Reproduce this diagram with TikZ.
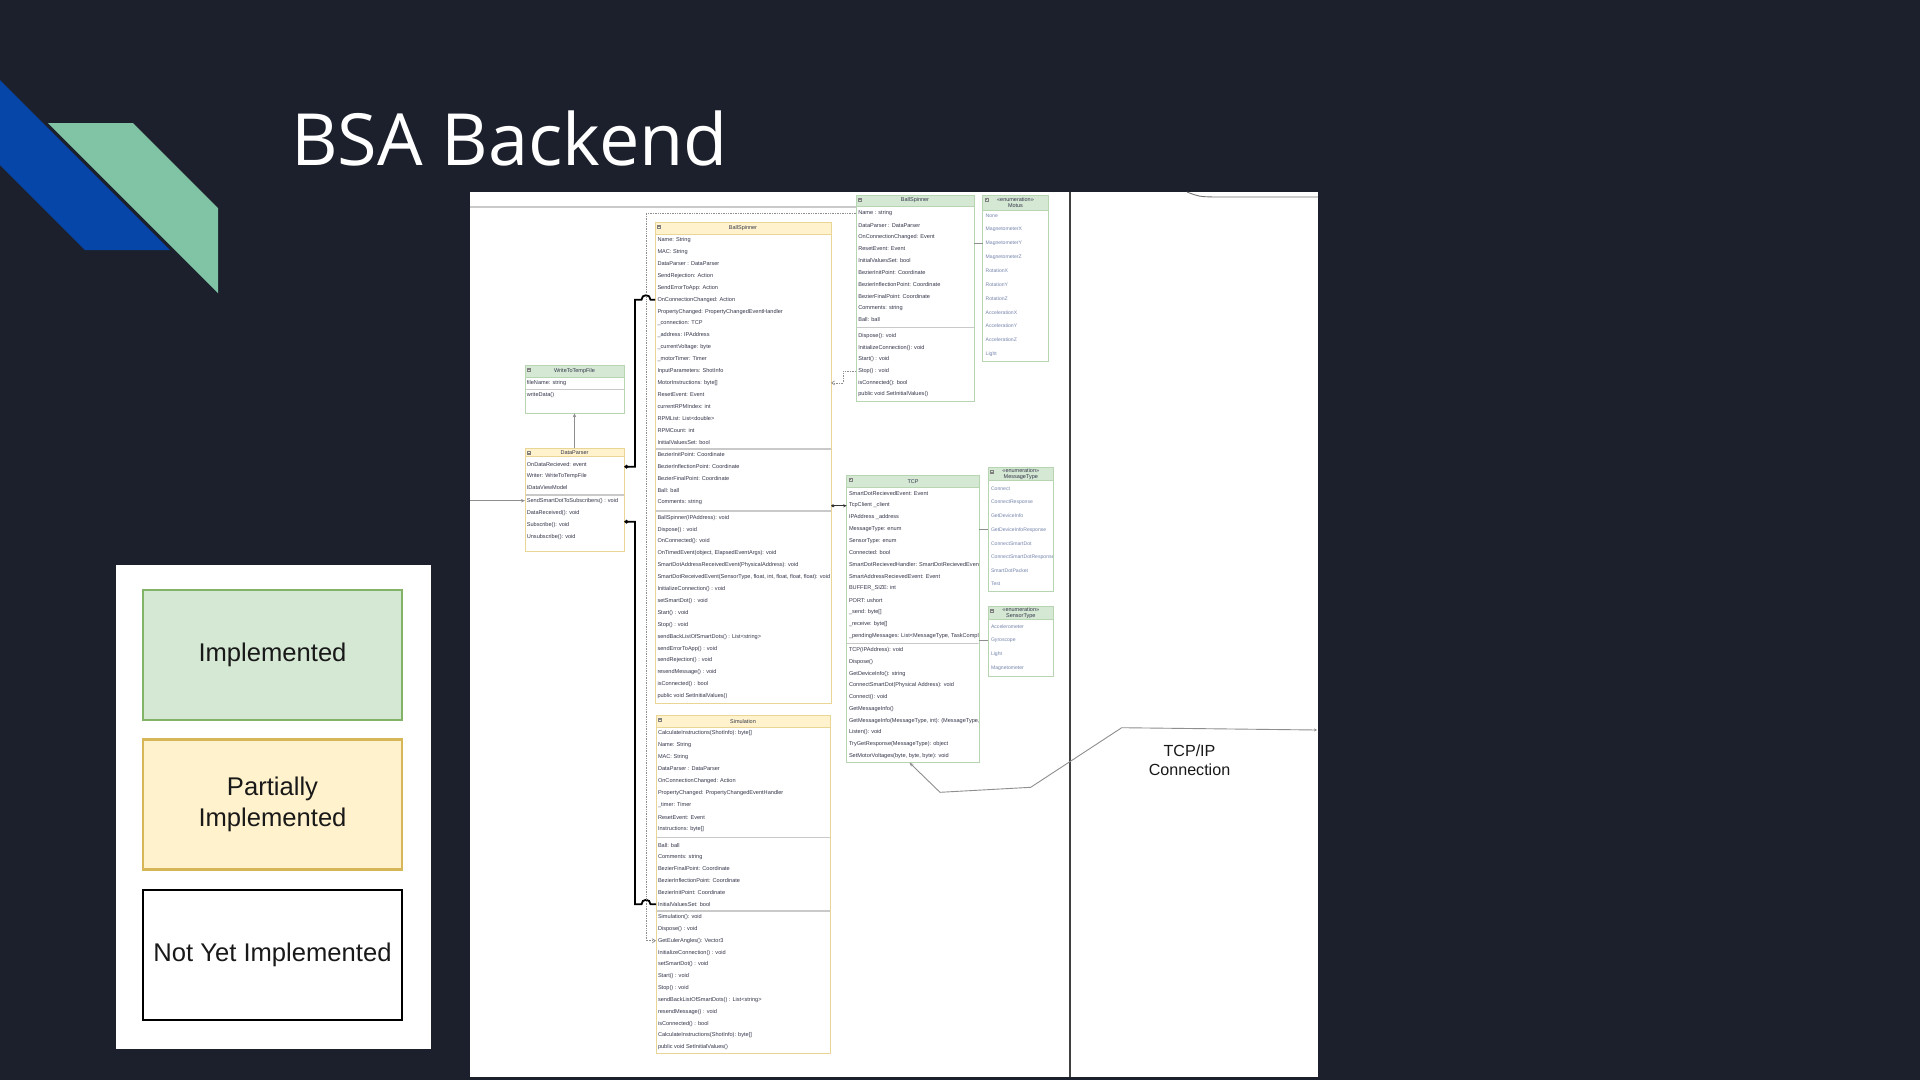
\documentclass[tikz,border=0pt]{standalone}
\usepackage{fontspec}
\setmainfont{Liberation Sans}
\newfontfamily\titlefont{Open Sans}
\usetikzlibrary{arrows.meta,calc}

\definecolor{slidebg}{HTML}{1C202C}
\definecolor{logoblue}{HTML}{0646A8}
\definecolor{logogreen}{HTML}{80C4A5}
\definecolor{yfill}{HTML}{FFF2CC}
\definecolor{ybord}{HTML}{E9D596}
\definecolor{gfill}{HTML}{D5E8D4}
\definecolor{gbord}{HTML}{B7D5B0}
\definecolor{sepgray}{HTML}{C9C9C9}
\definecolor{rowtext}{HTML}{33364A}
\definecolor{enumtext}{HTML}{7484AC}
\definecolor{conngray}{HTML}{8E8E8E}
\definecolor{legimplbord}{HTML}{82B366}
\definecolor{legpartbord}{HTML}{D6B656}

\tikzset{
  row/.style={anchor=west, inner sep=0, outer sep=0, font=\fontsize{5.6}{6.5}\selectfont, text=rowtext},
  erow/.style={anchor=west, inner sep=0, outer sep=0, font=\fontsize{5.1}{6}\selectfont, text=enumtext},
  classtitle/.style={inner sep=0, outer sep=0, font=\fontsize{5.5}{6}\selectfont, text=rowtext, align=center},
  ybox/.style={draw=ybord, fill=white, line width=0.7pt, inner sep=0, outer sep=0},
  yhead/.style={draw=ybord, fill=yfill, line width=0.7pt, inner sep=0, outer sep=0},
  gbox/.style={draw=gbord, fill=white, line width=0.7pt, inner sep=0, outer sep=0},
  ghead/.style={draw=gbord, fill=gfill, line width=0.7pt, inner sep=0, outer sep=0},
  sepline/.style={draw=sepgray, line width=1.6pt},
  icon/.style={draw=gray, line width=0.4pt},
  conn/.style={draw=conngray, line width=0.7pt},
  strong/.style={draw=black, line width=1.8pt},
  legbox/.style={minimum width=259pt, minimum height=130pt, line width=2.6pt, inner sep=0,
    align=center, text=black!90, font=\fontsize{25.6}{30.6}\selectfont},
}

% class box: name, kind (y/g), x1, x2, top, header bottom, bottom, title
\newcommand\umlclass[8]{%
  \node[#2box, anchor=north west, minimum width={#4-#3}, minimum height={#7-#5}] (#1) at (#3,#5) {};
  \node[#2head, anchor=north west, minimum width={#4-#3}, minimum height={#6-#5}] (#1-h) at (#3,#5) {};
  \node[classtitle] (#1-t) at (#1-h.center) {#8};
  \draw[icon] ($(#1.north west)+(2.2,3)$) rectangle ++(3,3);
  \draw[icon] ($(#1.north west)+(2.8,4.5)$) -- ++(1.8,0);
}
% rows of a compartment: prefix, x, first y, step, style, list
\newcommand\umlrows[6]{%
  \foreach \lbl [count=\i] in {#6} {\node[#5] (#1\i) at (#2,{#3+(\i-1)*(#4)}) {\lbl};}
}

\begin{document}
\begin{tikzpicture}[x=1pt,y=-1pt]
\useasboundingbox (0,0) rectangle (1920,1080);
\fill[slidebg] (0,0) rectangle (1920,1080);

% logo stripes
\fill[logoblue] (0,80) -- (170,250) -- (85,250) -- (0,165) -- cycle;
\fill[logogreen] (48,123) -- (133,123) -- (218,208) -- (218,293) -- cycle;

% title
\node[anchor=base west, inner sep=0, text=white, font=\titlefont\fontsize{72}{80}\selectfont] (title) at (291,165) {BSA Backend};

% legend
\fill[white] (116,564.5) rectangle (431,1049.4);
\node[legbox, draw=legimplbord, fill=gfill] (limpl) at (272.5,655) {Implemented};
\node[legbox, draw=legpartbord, fill=yfill] (lpart) at (272.5,804.5) {Partially\\Implemented};
\node[legbox, draw=black, fill=white] (lnone) at (272.5,955) {Not Yet Implemented};

% class diagram sheet
\fill[white] (470,192) rectangle (1318,1077);
\draw[sepgray, line width=1.4pt] (470,207) -- (856,207);
\draw[black!75, line width=1.3pt] (1070,192) -- (1070,1077);
\draw[black!55, line width=0.9pt] (1187,192) .. controls (1199,196.6) .. (1214,197) -- (1318,197);

% ---- WriteToTempFile
\umlclass{wt}{g}{525}{624}{365}{377.7}{413.3}{WriteToTempFile}
\umlrows{wta}{526.8}{382.7}{12}{row}{fileName: string}
\draw[sepline] (525.5,389.3) -- (623.5,389.3);
\umlrows{wtb}{526.8}{395}{12}{row}{writeData()}

% ---- DataParser
\umlclass{dp}{y}{525}{624}{448.3}{456.7}{551.7}{DataParser}
\umlrows{dpa}{526.8}{464}{11.65}{row}{OnDataRecieved: event, Writer: WriteToTempFile, IDataViewModel}
\draw[sepline] (525.5,495) -- (623.5,495);
\umlrows{dpb}{526.8}{500.7}{12}{row}{SendSmartDotToSubscribers() : void, DataReceived(): void, Subscribe(): void, Unsubscribe(): void}

% ---- BallSpinner (partial)
\umlclass{ys}{y}{655}{831}{222}{234}{703.5}{BallSpinner}
\umlrows{ysa}{657.5}{240.3}{11.88}{row}{Name: String, MAC: String, DataParser : DataParser, SendRejection: Action, SendErrorToApp: Action, OnConnectionChanged: Action, PropertyChanged: PropertyChangedEventHandler, \_connection: TCP, \_address: IPAddress, \_currentVoltage: byte, \_motorTimer: Timer, InputParameters: ShotInfo, MotorInstructions: byte[], ResetEvent: Event, currentRPMIndex: int, RPMList: List<double>, RPMCount: int, InitialValuesSet: bool}
\draw[sepline] (655.5,449) -- (830.5,449);
\umlrows{ysb}{657.5}{454.6}{11.9}{row}{BezierInitPoint: Coordinate, BezierInflectionPoint: Coordinate, BezierFinalPoint: Coordinate, Ball: ball, Comments: string}
\draw[sepline] (655.5,510.7) -- (830.5,510.7);
\umlrows{ysc}{657.5}{517.7}{11.9}{row}{BallSpinner(IPAddress): void, Dispose() : void, OnConnected(): void, {OnTimedEvent(object, ElapsedEventArgs): void}, SmartDotAddressReceivedEvent(PhysicalAddress): void, {SmartDotReceivedEvent(SensorType, float, int, float, float, float): void}, InitializeConnection() : void, setSmartDot() : void, Start() : void, Stop() : void, sendBackListOfSmartDots() : List<string>, sendErrorToApp() : void, sendRejection() : void, resendMessage() : void, isConnected() : bool, public void SetInitialValues()}

% ---- Simulation
\umlclass{sim}{y}{656}{830}{715}{727.3}{1053.5}{Simulation}
\umlrows{sima}{658}{733}{12.02}{row}{CalculateInstructions(ShotInfo): byte[], Name: String, MAC: String, DataParser : DataParser, OnConnectionChanged: Action, PropertyChanged: PropertyChangedEventHandler, \_timer: Timer, ResetEvent: Event, Instructions: byte[]}
\draw[sepline] (656.5,837.3) -- (829.5,837.3);
\umlrows{simb}{658}{845}{11.86}{row}{Ball: ball, Comments: string, BezierFinalPoint: Coordinate, BezierInflectionPoint: Coordinate, BezierInitPoint: Coordinate, InitialValuesSet: bool}
\draw[sepline] (656.5,910.7) -- (829.5,910.7);
\umlrows{simc}{658}{917}{11.85}{row}{Simulation(): void, Dispose() : void, GetEulerAngles(): Vector3, InitializeConnection() : void, setSmartDot() : void, Start() : void, Stop() : void, sendBackListOfSmartDots() : List<string>, resendMessage() : void, isConnected() : bool, CalculateInstructions(ShotInfo): byte[], public void SetInitialValues()}

% ---- BallSpinner (implemented)
\umlclass{gb}{g}{856}{974}{195}{206}{401.7}{BallSpinner}
\umlrows{gba}{858.3}{213.3}{11.85}{row}{Name : string, DataParser : DataParser, OnConnectionChanged: Event, ResetEvent: Event, InitialValuesSet: bool, BezierInitPoint: Coordinate, BezierInflectionPoint: Coordinate, BezierFinalPoint: Coordinate, Comments: string, Ball: ball}
\draw[sepline] (856.5,327.3) -- (973.5,327.3);
\umlrows{gbb}{858.3}{336}{11.66}{row}{Dispose(): void, InitializeConnection(): void, Start() : void, Stop() : void, isConnected(): bool, public void SetInitialValues()}

% ---- TCP
\umlclass{tcp}{g}{846.7}{979.3}{475}{487.3}{762.7}{TCP}
\begin{scope}
\clip (846.7,487.3) rectangle (978.6,762.7);
\umlrows{tcpa}{849}{493.3}{11.87}{row}{SmartDotRecievedEvent: Event, TcpClient \_client, IPAddress \_address, MessageType: enum, SensorType: enum, Connected: bool, SmartDotRecievedHandler: SmartDotRecievedEvent, SmartAddressRecievedEvent: Event, BUFFER\_SIZE: int, PORT: ushort, \_send: byte[], \_receive: byte[], {\_pendingMessages: List<MessageType, TaskComple}}
\draw[sepline] (847.2,643.3) -- (978.8,643.3);
\umlrows{tcpb}{849}{650}{11.78}{row}{TCP(IPAddress): void, Dispose(), GetDeviceInfo(): string, ConnectSmartDot(Physical Address): void, Connect(): void, GetMessageInfo(), {GetMessageInfo(MessageType, int): (MessageType,}, Listen(): void, TryGetResponse(MessageType): object, {SetMotorVoltages(byte, byte, byte): void}}
\end{scope}

% ---- enumerations
\umlclass{mo}{g}{982.7}{1048.3}{195}{210.7}{361}{«enumeration»\\Motus}
\umlrows{moa}{985.7}{215.7}{13.8}{erow}{None, MagnetometerX, MagnetometerY, MagnetometerZ, RotationX, RotationY, RotationZ, AccelerationX, AccelerationY, AccelerationZ, Light}

\umlclass{mt}{g}{988.3}{1053.3}{467.3}{480}{591.7}{«enumeration»\\MessageType}
\begin{scope}
\clip (988.3,480) rectangle (1052.6,591.7);
\umlrows{mta}{991}{489}{13.57}{erow}{Connect, ConnectResponse, GetDeviceInfo, GetDeviceInfoResponse, ConnectSmartDot, ConnectSmartDotResponse, SmartDotPacket, Test}
\end{scope}

\umlclass{st}{g}{988.3}{1053.3}{606}{619.3}{676}{«enumeration»\\SensorType}
\umlrows{sta}{991}{626.7}{13.9}{erow}{Accelerometer, Gyroscope, Light, Magnetometer}

% ---- connectors
\coordinate (bus) at (635,0);
\coordinate (hopL) at (641.5,0);
\coordinate (hopR) at (650.5,0);
\coordinate (vdot) at (646,0);
\coordinate (dashx) at (843,0);
\coordinate (sheetL) at (470,0);
\coordinate (dpo1) at ($(dp.north east)+(0,18.4)$);
\coordinate (dpo2) at ($(dp.north east)+(0,73.4)$);

\draw[conn, -{Stealth[length=4pt,width=3.4pt]}] (dp.north) -- (wt.south);
\draw[conn, -{Stealth[length=4pt,width=3.4pt]}] (dpb1 -| sheetL) -- (dpb1 -| dp.west);

\draw[strong, {Diamond[length=5pt,width=4pt]}-] (dpo1) -- (dpo1 -| bus) |- (ysa6 -| hopL)
  .. controls +(0,-6) and +(0,-6) .. (ysa6 -| hopR) -- (ysa6 -| ys.west);
\draw[strong, {Diamond[length=5pt,width=4pt]}-] (dpo2) -- (dpo2 -| bus) |- (simb6 -| hopL)
  .. controls +(0,-6) and +(0,-6) .. (simb6 -| hopR) -- (simb6 -| sim.west);

\draw[conn, densely dotted, line width=0.8pt, -{Straight Barb[length=3pt,width=4pt]}] (gba1 -| gb.west) -- (gba1 -| vdot) |- (simc3 -| sim.west);
\draw[conn, dashed, dash pattern=on 1.5pt off 1pt, -{Straight Barb[length=3pt,width=4pt]}] (gbb4 -| gb.west) -- (gbb4 -| dashx) |- (ysa13 -| ys.east);

\coordinate (yso) at ($(ys.east)+(0,43)$);
\draw[black!80, line width=0.8pt, {Diamond[length=4pt,width=3pt]}-{Stealth[length=3.5pt,width=3pt]}] (yso) -- (yso -| tcp.west);

\draw[conn] (tcpa4 -| tcp.east) -- (tcpa4 -| mt.west);
\draw[conn] (sta2 -| tcp.east) -- (sta2 -| st.west);
\draw[conn] (moa3 -| gb.east) -- (moa3 -| mo.west);

% network link leaving the sheet
\coordinate (netR) at (1317,730);
\coordinate (netA) at (1121.7,727.7);
\coordinate (netB) at (1030.7,787.3);
\coordinate (netC) at (940,792.3);
\draw[conn, line width=0.9pt, {Stealth[length=4pt,width=3.4pt]}-{Stealth[length=3pt,width=3pt]}] ([xshift=-3.5pt]tcp.south) -- (netC) -- (netB) -- (netA) -- (netR);
\node[align=center, inner sep=0, font=\fontsize{16.1}{19.4}\selectfont, text=black!90] (netlbl) at (1189.5,760) {TCP/IP\\Connection};
\end{tikzpicture}
\end{document}
